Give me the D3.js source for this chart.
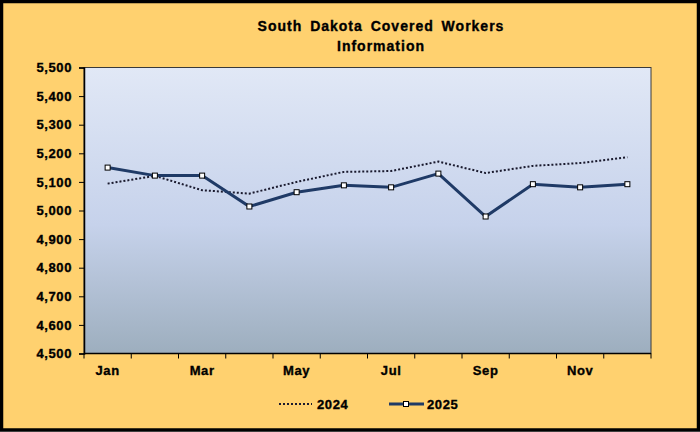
<!DOCTYPE html>
<html><head><meta charset="utf-8">
<script src="https://cdn.jsdelivr.net/npm/d3@7"></script>
<style>
html,body{margin:0;padding:0;background:#fff;}
svg{display:block;}
text{font-family:"Liberation Sans",Arial,sans-serif;font-weight:bold;fill:#000;stroke:#000;stroke-width:0.35px;}
</style></head>
<body>
<svg id="chart" width="700" height="432"></svg>
<script>
const months = ["Jan","Feb","Mar","Apr","May","Jun","Jul","Aug","Sep","Oct","Nov","Dec"];
const monthLabels = ["Jan","","Mar","","May","","Jul","","Sep","","Nov",""];
const values2024 = [5094,5121,5071,5059,5100,5135,5138,5171,5131,5156,5166,5186];
const values2025 = [5150,5122,5122,5014,5064,5088,5081,5129,4979,5092,5081,5092];
const yTicks = [4500,4600,4700,4800,4900,5000,5100,5200,5300,5400,5500];
const titleLines = ["South Dakota Covered Workers","Information"];
const seriesNames = ["2024","2025"];

const svg = d3.select("#chart");
const W = 700, H = 432;
const m = {left:84, right:651, top:67.5, bottom:353.5};

svg.append("rect").attr("x",1.5).attr("y",1.5).attr("width",W-3).attr("height",H-3.5)
  .attr("fill","#FFD16F").attr("stroke","#000").attr("stroke-width",3.5);

const defs = svg.append("defs");
const g = defs.append("linearGradient").attr("id","pg").attr("x1",0).attr("y1",0).attr("x2",0).attr("y2",1);
g.append("stop").attr("offset","0%").attr("stop-color","#E1E8F6");
g.append("stop").attr("offset","55%").attr("stop-color","#C6D2EB");
g.append("stop").attr("offset","100%").attr("stop-color","#9DAEBE");

const x = d3.scaleBand().domain(months).range([m.left,m.right]).padding(0);
const y = d3.scaleLinear().domain([4500,5500]).range([m.bottom,m.top]);

svg.append("rect").attr("x",m.left).attr("y",m.top).attr("width",m.right-m.left).attr("height",m.bottom-m.top)
  .attr("fill","url(#pg)").attr("stroke","#3a3a3a").attr("stroke-width",1);

titleLines.forEach((t,i)=>{
  svg.append("text").attr("x",381).attr("y",31+i*20).attr("text-anchor","middle")
    .attr("font-size",14).attr("letter-spacing",1).attr("word-spacing",3).text(t);
});

const yAxis = svg.append("g").attr("transform",`translate(${m.left},0)`)
  .call(d3.axisLeft(y).tickValues(yTicks).tickSize(5).tickPadding(7).tickFormat(d3.format(",")));
yAxis.select(".domain").attr("stroke","#000").attr("stroke-width",1.5);
yAxis.selectAll(".tick line").attr("stroke","#000");
yAxis.selectAll(".tick text").attr("font-size",13).attr("letter-spacing",0.6)
  .attr("font-family","Liberation Sans, Arial, sans-serif").attr("font-weight","bold").attr("fill","#000");

const xAxisG = svg.append("g").attr("transform",`translate(0,${m.bottom})`);
xAxisG.append("line").attr("x1",m.left).attr("x2",m.right).attr("stroke","#000").attr("stroke-width",1.5);
const bounds = months.map(mo=>x(mo)).concat([m.right]);
xAxisG.selectAll("line.tk").data(bounds).join("line").attr("class","tk")
  .attr("x1",d=>d).attr("x2",d=>d).attr("y1",0).attr("y2",5).attr("stroke","#000");
xAxisG.selectAll("text").data(months).join("text")
  .attr("x",d=>x(d)+x.bandwidth()/2).attr("y",21.5).attr("text-anchor","middle")
  .attr("font-size",13).attr("letter-spacing",0.6).text((d,i)=>monthLabels[i]);

const line = d3.line().x((d,i)=>x(months[i])+x.bandwidth()/2).y(d=>y(d));

svg.append("path").datum(values2024).attr("d",line).attr("fill","none")
  .attr("stroke","#1a1a2e").attr("stroke-width",2).attr("stroke-dasharray","2,2");
svg.append("path").datum(values2025).attr("d",line).attr("fill","none")
  .attr("stroke","#1F3A66").attr("stroke-width",3);
svg.selectAll("rect.mk").data(values2025).join("rect").attr("class","mk")
  .attr("x",(d,i)=>x(months[i])+x.bandwidth()/2-2.5).attr("y",d=>y(d)-2.5)
  .attr("width",5).attr("height",5).attr("fill","#fff").attr("stroke","#000").attr("stroke-width",1);

const lg = svg.append("g");
lg.append("line").attr("x1",279).attr("x2",312).attr("y1",404).attr("y2",404)
  .attr("stroke","#1a1a2e").attr("stroke-width",2).attr("stroke-dasharray","2,2");
lg.append("text").attr("x",317).attr("y",409).attr("font-size",13).attr("letter-spacing",0.6).text(seriesNames[0]);
lg.append("line").attr("x1",389).attr("x2",424).attr("y1",404).attr("y2",404)
  .attr("stroke","#1F3A66").attr("stroke-width",3);
lg.append("rect").attr("x",403.5).attr("y",401.5).attr("width",5).attr("height",5)
  .attr("fill","#fff").attr("stroke","#000");
lg.append("text").attr("x",427).attr("y",409).attr("font-size",13).attr("letter-spacing",0.6).text(seriesNames[1]);
</script>
</body></html>
